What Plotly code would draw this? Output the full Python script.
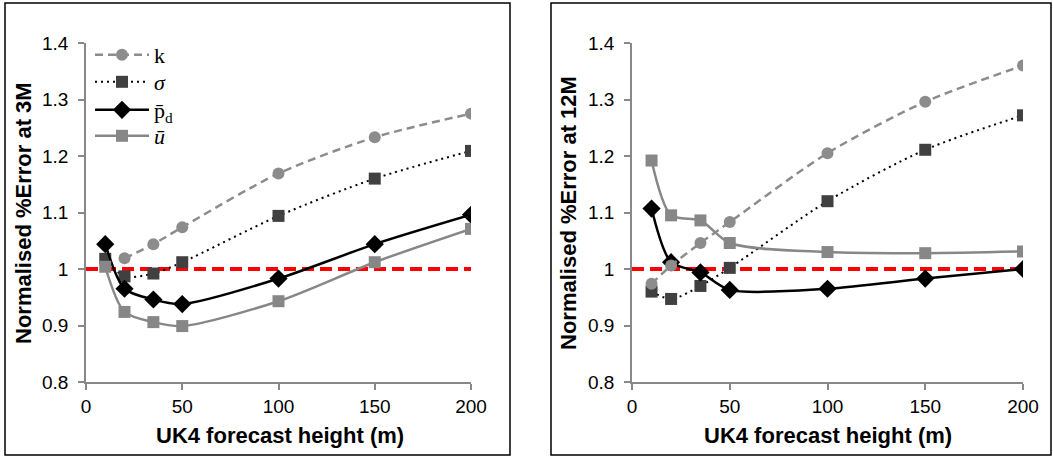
import plotly.graph_objects as go

heights = [10, 20, 35, 50, 100, 150, 200]

# 3M panel
k_3m = [None, 1.019, 1.044, 1.074, 1.169, 1.233, 1.275]
sigma_3m = [1.018, 0.987, 0.992, 1.012, 1.094, 1.160, 1.209]
pd_3m = [1.044, 0.965, 0.946, 0.938, 0.983, 1.044, 1.096]
u_3m = [1.004, 0.924, 0.906, 0.899, 0.943, 1.012, 1.071]

# 12M panel
k_12m = [0.974, 1.006, 1.046, 1.083, 1.205, 1.296, 1.360]
sigma_12m = [0.960, 0.947, 0.970, 1.002, 1.120, 1.211, 1.272]
pd_12m = [1.107, 1.012, 0.994, 0.963, 0.965, 0.983, 1.000]
u_12m = [1.192, 1.095, 1.086, 1.046, 1.030, 1.028, 1.031]

ref_x = [0, 200]
ref_y = [1, 1]

ytickvals = [0.8, 0.9, 1.0, 1.1, 1.2, 1.3, 1.4]
yticktext = ["0.8", "0.9", "1", "1.1", "1.2", "1.3", "1.4"]
xtickvals = [0, 50, 100, 150, 200]

W, H = 1053, 457

fig = go.Figure()

series_styles = {
    "k": dict(name="k", color="#8c8c8c", mcolor="#8c8c8c", symbol="circle", dash="8px,5px", width=2.5, size=12,
              legend="legend", ly=55),
    "s": dict(name="<i>σ</i>", color="#000000", mcolor="#404040", symbol="square", dash="2px,4px", width=2, size=12,
              legend="legend2", ly=82),
    "p": dict(name="p̄<sub>d</sub>", color="#000000", mcolor="#000000", symbol="diamond", dash="solid", width=2.5, size=14,
              legend="legend3", ly=110),
    "u": dict(name="<i>ū</i>", color="#878787", mcolor="#878787", symbol="square", dash="solid", width=2.5, size=12,
              legend="legend4", ly=136),
}

panels = [
    ("x", "y", {"k": k_3m, "s": sigma_3m, "p": pd_3m, "u": u_3m}, True),
    ("x2", "y2", {"k": k_12m, "s": sigma_12m, "p": pd_12m, "u": u_12m}, False),
]

for xa, ya, data, showleg in panels:
    fig.add_trace(go.Scatter(x=ref_x, y=ref_y, mode="lines", xaxis=xa, yaxis=ya,
                             line=dict(color="#ff0000", width=4, dash="12px,6px"),
                             showlegend=False, hoverinfo="skip"))
    for key in ["s", "p", "u", "k"]:
        st = series_styles[key]
        fig.add_trace(go.Scatter(
            x=heights, y=data[key], mode="lines+markers", xaxis=xa, yaxis=ya,
            name=st["name"], legend=st["legend"], showlegend=showleg,
            line=dict(color=st["color"], width=st["width"], dash=st["dash"], shape="spline", smoothing=0.8),
            marker=dict(symbol=st["symbol"], size=st["size"], color=st["mcolor"], line=dict(width=0)),
            connectgaps=False,
        ))

def px(v):
    return v / W

def py(v):
    return 1 - v / H

axis_common = dict(showgrid=False, zeroline=False, showline=True, linecolor="#888888", linewidth=1.5,
                   ticks="outside", ticklen=6, tickcolor="#888888", tickwidth=1.5, automargin=False,
                   tickfont=dict(family="Liberation Sans, Arial", size=19, color="#000000"))

legend_font = dict(family="Liberation Serif, Times New Roman", size=22, color="#000000")
legends = {}
for key, st in series_styles.items():
    legends[st["legend"]] = dict(x=px(90), y=py(st["ly"]), xanchor="left", yanchor="middle",
                                 bgcolor="rgba(0,0,0,0)", font=legend_font, itemwidth=54)

fig.update_layout(
    width=W, height=H,
    margin=dict(l=0, r=0, t=0, b=0, pad=0, autoexpand=False),
    paper_bgcolor="white", plot_bgcolor="white",
    xaxis=dict(domain=[px(86), px(471)], range=[0, 200], tickvals=xtickvals, anchor="y", **axis_common),
    yaxis=dict(domain=[py(382), py(43)], range=[0.8, 1.4], tickvals=ytickvals, ticktext=yticktext,
               anchor="x", ticklabelstandoff=6, **axis_common),
    xaxis2=dict(domain=[px(632), px(1023)], range=[0, 200], tickvals=xtickvals, anchor="y2", **axis_common),
    yaxis2=dict(domain=[py(382), py(43)], range=[0.8, 1.4], tickvals=ytickvals, ticktext=yticktext,
                anchor="x2", ticklabelstandoff=6, **axis_common),
    showlegend=True,
    **legends,
)

title_font = dict(family="Liberation Sans, Arial", size=22, color="#000000")
annots = [
    dict(text="<b>Normalised %Error at 3M</b>", x=px(23), y=py(213), textangle=-90),
    dict(text="<b>Normalised %Error at 12M</b>", x=px(568), y=py(213), textangle=-90),
    dict(text="<b>UK4 forecast height (m)</b>", x=px(280), y=py(435), textangle=0),
    dict(text="<b>UK4 forecast height (m)</b>", x=px(828), y=py(435), textangle=0),
]
for a in annots:
    fig.add_annotation(xref="paper", yref="paper", xanchor="center", yanchor="middle",
                       showarrow=False, font=title_font, **a)

for x0, x1 in [(5, 510), (551, 1051)]:
    fig.add_shape(type="rect", xref="paper", yref="paper", x0=px(x0), x1=px(x1), y0=py(455), y1=py(3),
                  line=dict(color="#000000", width=1.5), fillcolor="rgba(0,0,0,0)")

fig.write_html("out.html", config={"displayModeBar": False},
               post_script="document.body.style.margin='0';document.body.style.overflow='hidden';"
                           "document.documentElement.style.overflow='hidden';")
